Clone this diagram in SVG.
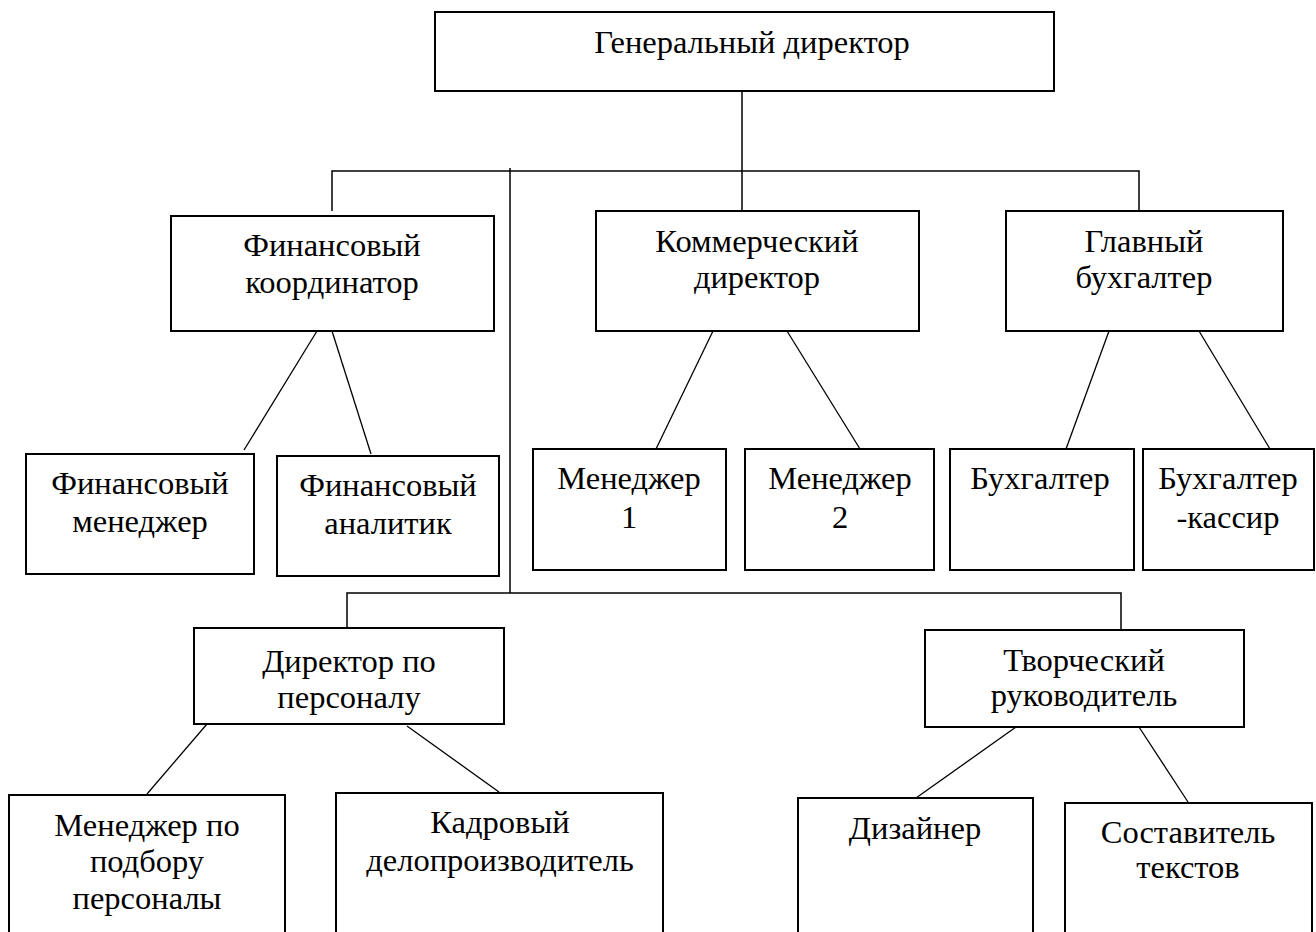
<svg xmlns="http://www.w3.org/2000/svg" width="1316" height="932" viewBox="0 0 1316 932">
<style>
.box{fill:#fff;stroke:#000;stroke-width:2}
.t{font-family:"Liberation Serif","Times New Roman",serif;font-size:32.5px;fill:#000;text-anchor:middle}
.c{stroke:#000;stroke-width:1.5;fill:none}
.d{stroke:#000;stroke-width:1.3;fill:none}
</style>
<rect width="1316" height="932" fill="#fff"/>
<g id="connectors">
<polyline class="c" points="742,91 742,211"/>
<polyline class="c" points="332,211 332,171 1139,171 1139,211"/>
<line class="c" x1="510" y1="168" x2="510" y2="593"/>
<polyline class="c" points="347,628 347,593 1121,593 1121,629"/>
<line class="d" x1="317" y1="331" x2="244" y2="450"/>
<line class="d" x1="332" y1="331" x2="371" y2="454"/>
<line class="d" x1="713" y1="331" x2="656" y2="449"/>
<line class="d" x1="787" y1="331" x2="860" y2="449"/>
<line class="d" x1="1109" y1="331" x2="1066" y2="449"/>
<line class="d" x1="1199" y1="331" x2="1270" y2="449"/>
<line class="d" x1="207" y1="724" x2="147" y2="794"/>
<line class="d" x1="407" y1="726" x2="499" y2="792"/>
<line class="d" x1="1016" y1="727" x2="916" y2="798"/>
<line class="d" x1="1139" y1="727" x2="1188" y2="802"/>
</g>
<g id="gen-dir"><rect class="box" x="435" y="12" width="619" height="79"/><text class="t" x="752" y="53">Генеральный директор</text></g>
<g id="fin-coord"><rect class="box" x="171" y="216" width="323" height="115"/><text class="t" x="332" y="256">Финансовый</text><text class="t" x="332" y="293">координатор</text></g>
<g id="comm-dir"><rect class="box" x="596" y="211" width="323" height="120"/><text class="t" x="757" y="252">Коммерческий</text><text class="t" x="757" y="288">директор</text></g>
<g id="chief-acc"><rect class="box" x="1006" y="211" width="277" height="120"/><text class="t" x="1144" y="252">Главный</text><text class="t" x="1144" y="288">бухгалтер</text></g>
<g id="fin-man"><rect class="box" x="26" y="454" width="228" height="120"/><text class="t" x="140" y="494">Финансовый</text><text class="t" x="140" y="532">менеджер</text></g>
<g id="fin-an"><rect class="box" x="277" y="456" width="222" height="120"/><text class="t" x="388" y="496">Финансовый</text><text class="t" x="388" y="534">аналитик</text></g>
<g id="man1"><rect class="box" x="533" y="449" width="193" height="121"/><text class="t" x="629" y="489">Менеджер</text><text class="t" x="629" y="528">1</text></g>
<g id="man2"><rect class="box" x="745" y="449" width="189" height="121"/><text class="t" x="840" y="489">Менеджер</text><text class="t" x="840" y="528">2</text></g>
<g id="acc"><rect class="box" x="950" y="449" width="184" height="121"/><text class="t" x="1040" y="489">Бухгалтер</text></g>
<g id="acc-cash"><rect class="box" x="1143" y="449" width="171" height="121"/><text class="t" x="1228" y="489">Бухгалтер</text><text class="t" x="1228" y="528">-кассир</text></g>
<g id="hr-dir"><rect class="box" x="194" y="628" width="310" height="96"/><text class="t" x="349" y="672">Директор по</text><text class="t" x="349" y="708">персоналу</text></g>
<g id="creative"><rect class="box" x="925" y="630" width="319" height="97"/><text class="t" x="1084" y="671">Творческий</text><text class="t" x="1084" y="706">руководитель</text></g>
<g id="recruit"><rect class="box" x="9" y="795" width="276" height="150"/><text class="t" x="147" y="836">Менеджер по</text><text class="t" x="147" y="872">подбору</text><text class="t" x="147" y="909">персоналы</text></g>
<g id="clerk"><rect class="box" x="336" y="793" width="327" height="150"/><text class="t" x="500" y="833">Кадровый</text><text class="t" x="500" y="871">делопроизводитель</text></g>
<g id="designer"><rect class="box" x="798" y="798" width="235" height="150"/><text class="t" x="915" y="839">Дизайнер</text></g>
<g id="writer"><rect class="box" x="1065" y="803" width="247" height="150"/><text class="t" x="1188" y="843">Составитель</text><text class="t" x="1188" y="878">текстов</text></g>
</svg>
